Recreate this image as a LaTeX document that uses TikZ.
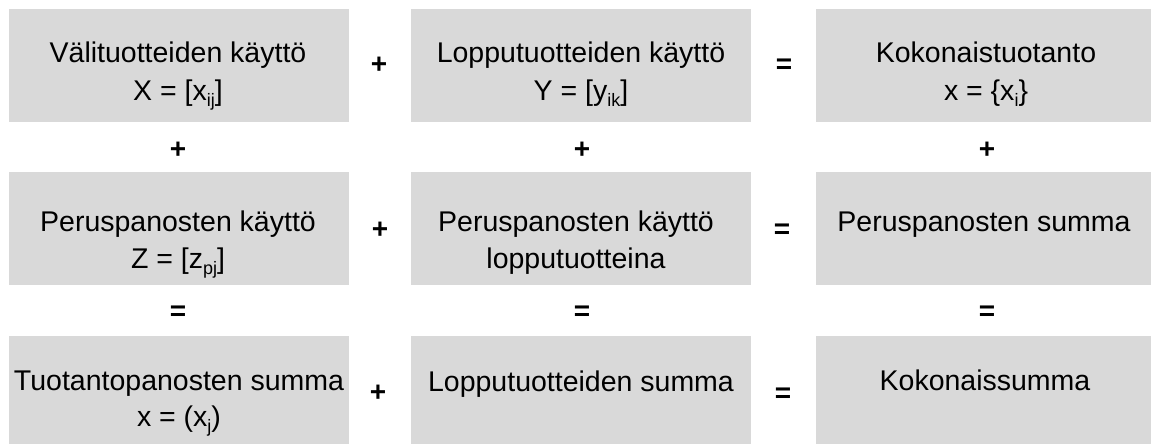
\documentclass[tikz,border=0pt]{standalone}
\usepackage{fontspec}
\setmainfont{Liberation Sans}
\definecolor{boxgray}{HTML}{D9D9D9}
\tikzset{
  cell/.style={fill=boxgray, draw=none, minimum width=340pt, minimum height=113pt, anchor=north west, inner sep=0pt},
  txt/.style={anchor=base, inner sep=0pt, font=\fontsize{28.5}{34}\selectfont},
  op/.style={inner sep=0pt, font=\fontsize{28}{28}\selectfont\bfseries},
}
\newcommand{\sbs}[1]{\raisebox{-0.22em}{\fontsize{18}{18}\selectfont #1}}
\begin{document}
\begin{tikzpicture}[x=1pt,y=-1pt]
\useasboundingbox (0,0) rectangle (1151,444);
\clip (0,0) rectangle (1151,444);
% boxes
\node[cell] (a1) at (9,9) {};
\node[cell] (b1) at (411,9) {};
\node[cell] (c1) at (816,9) {};
\node[cell] (a2) at (9,172) {};
\node[cell] (b2) at (411,172) {};
\node[cell] (c2) at (816,172) {};
\node[cell] (a3) at (9,336) {};
\node[cell] (b3) at (411,336) {};
\node[cell] (c3) at (816,336) {};
% texts row 1
\node[txt] (a1l1) at (178,63) {Välituotteiden käyttö};
\node[txt] (a1l2) at (178,100) {X = [x\sbs{ij}]};
\node[txt] (b1l1) at (581,63) {Lopputuotteiden käyttö};
\node[txt] (b1l2) at (581,100) {Y = [y\sbs{ik}]};
\node[txt] (c1l1) at (986,63) {Kokonaistuotanto};
\node[txt] (c1l2) at (986,100) {x = \{x\sbs{i}\}};
% texts row 2
\node[txt] (a2l1) at (178,231) {Peruspanosten käyttö};
\node[txt] (a2l2) at (178,268) {Z = [z\sbs{pj}]};
\node[txt] (b2l1) at (576,231) {Peruspanosten käyttö};
\node[txt] (b2l2) at (576,268) {lopputuotteina};
\node[txt] (c2l1) at (984,231) {Peruspanosten summa};
% texts row 3
\node[txt] (a3l1) at (179,390) {Tuotantopanosten summa};
\node[txt] (a3l2) at (179,426) {x = (x\sbs{j})};
\node[txt] (b3l1) at (581,391) {Lopputuotteiden summa};
\node[txt] (c3l1) at (985,390) {Kokonaissumma};
% operators within rows
\node[op] (o11) at (379,65) {+};
\node[op] (o12) at (784,66) {=};
\node[op] (o21) at (380,230) {+};
\node[op] (o22) at (782,231) {=};
\node[op] (o31) at (378,393) {+};
\node[op] (o32) at (783,395) {=};
% operators between rows
\node[op] (p1a) at (178,150) {+};
\node[op] (p1b) at (582,150) {+};
\node[op] (p1c) at (987,150) {+};
\node[op] (p2a) at (178,313) {=};
\node[op] (p2b) at (582,313) {=};
\node[op] (p2c) at (987,313) {=};
\end{tikzpicture}
\end{document}
